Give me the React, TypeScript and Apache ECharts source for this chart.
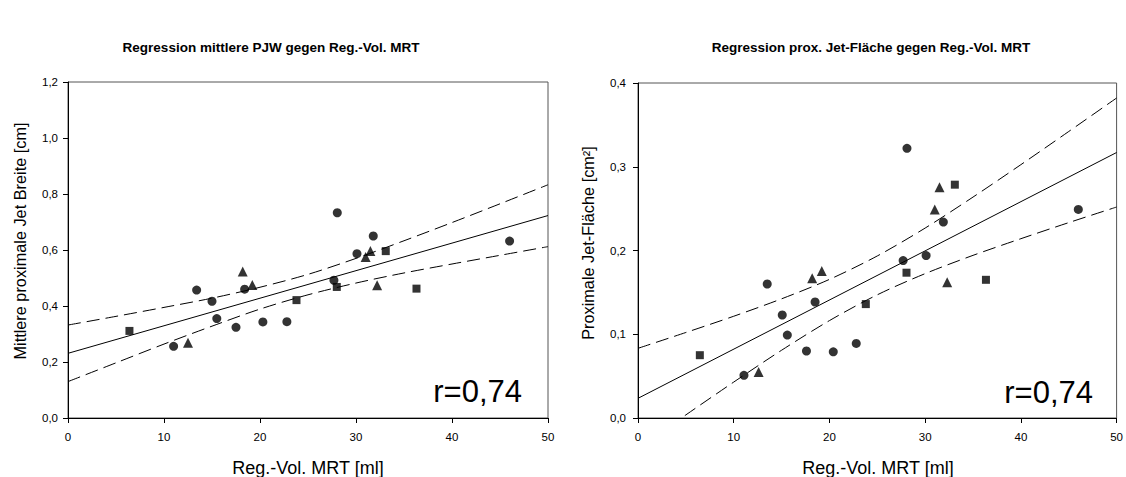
import React, { useEffect, useRef } from "react";
import * as echarts from "echarts";

// ---- Data ----
const leftCircles: [number, number][] = [
  [11.0, 0.256], [13.4, 0.457], [15.0, 0.417], [15.5, 0.355], [17.5, 0.324], [18.4, 0.46],
  [20.3, 0.343], [22.8, 0.344], [27.7, 0.492], [28.05, 0.733], [30.1, 0.587], [31.8, 0.65], [46.0, 0.632],
];
const leftTriangles: [number, number][] = [
  [12.5, 0.269], [18.2, 0.523], [19.2, 0.475], [31.0, 0.575], [31.5, 0.596], [32.2, 0.474],
];
const leftSquares: [number, number][] = [
  [6.4, 0.311], [23.8, 0.421], [28.0, 0.468], [33.1, 0.596], [36.3, 0.462],
];

const rightCircles: [number, number][] = [
  [11.07, 0.051], [13.5, 0.16], [15.07, 0.123], [15.6, 0.099], [17.6, 0.08], [18.5, 0.1385],
  [20.4, 0.079], [22.8, 0.089], [27.7, 0.188], [28.1, 0.322], [30.1, 0.194], [31.9, 0.234], [46.0, 0.249],
];
const rightTriangles: [number, number][] = [
  [12.6, 0.055], [18.2, 0.167], [19.2, 0.1755], [31.0, 0.249], [31.5, 0.2755], [32.3, 0.162],
];
const rightSquares: [number, number][] = [
  [6.46, 0.075], [23.8, 0.136], [28.05, 0.1735], [33.1, 0.2786], [36.35, 0.165],
];

const fitX = [0, 50];
const leftFit = [0.231, 0.723];
const rightFit = [0.0235, 0.317];

const bandX = [0, 5, 10, 15, 20, 25, 30, 35, 40, 45, 50];
const leftUpper = [0.332, 0.363, 0.395, 0.428, 0.467, 0.513, 0.57, 0.633, 0.698, 0.765, 0.833];
const leftLower = [0.13, 0.197, 0.264, 0.328, 0.389, 0.44, 0.482, 0.518, 0.55, 0.581, 0.612];
const rightUpper = [0.0832, 0.1021, 0.1215, 0.1423, 0.1655, 0.1935, 0.2268, 0.2638, 0.3025, 0.3421, 0.3821];
const rightLower = [-0.0362, 0.0037, 0.0429, 0.0809, 0.1163, 0.1471, 0.1724, 0.1942, 0.2141, 0.2333, 0.2519];

const titles = [
  "Regression mittlere PJW gegen Reg.-Vol. MRT",
  "Regression prox. Jet-Fläche gegen Reg.-Vol. MRT",
];
const yNames = ["Mittlere proximale Jet Breite [cm]", "Proximale Jet-Fläche [cm²]"];
const xName = "Reg.-Vol. MRT [ml]";
const rText = "r=0,74";

const FONT = 'Arial, "Liberation Sans", sans-serif';

const zip = (xs: number[], ys: number[]) => xs.map((x, i) => [x, ys[i]]);
const fmt = (v: number) => v.toFixed(1).replace(".", ",");

export default function App() {
  const ref = useRef<HTMLDivElement>(null);
  useEffect(() => {
    document.body.style.margin = "0";
    const chart = echarts.init(ref.current!, undefined, { renderer: "svg" });

    const xAxisCommon = {
      type: "value" as const,
      min: 0,
      max: 50,
      interval: 10,
      axisLine: { show: true, lineStyle: { color: "#000", width: 1 } },
      axisTick: { show: true, inside: false, length: 5, lineStyle: { color: "#000" } },
      axisLabel: { color: "#000", fontSize: 11.5, fontFamily: FONT, margin: 13 },
      splitLine: { show: false },
    };

    const scatter = (data: [number, number][], symbol: string, size: number, idx: number) => ({
      type: "scatter",
      xAxisIndex: idx,
      yAxisIndex: idx,
      data,
      symbol,
      symbolSize: size,
      itemStyle: { color: "#000" },
      z: 5,
    });
    const line = (data: number[][], dashed: boolean, idx: number) => ({
      type: "line",
      xAxisIndex: idx,
      yAxisIndex: idx,
      data,
      showSymbol: false,
      symbol: "none",
      smooth: dashed ? 0.3 : false,
      clip: true,
      lineStyle: { color: "#000", width: 1, type: dashed ? [13, 6] : "solid" },
      z: 3,
    });

    const option: any = {
      animation: false,
      backgroundColor: "#fff",
      grid: [
        { left: 68, top: 82, width: 480, height: 336, show: true, borderColor: "#555", borderWidth: 1, backgroundColor: "transparent" },
        { left: 638, top: 83, width: 480, height: 335, show: true, borderColor: "#555", borderWidth: 1, backgroundColor: "transparent" },
      ],
      xAxis: [
        { ...xAxisCommon, gridIndex: 0 },
        { ...xAxisCommon, gridIndex: 1 },
      ],
      yAxis: [
        {
          type: "value", gridIndex: 0, min: 0, max: 1.2, interval: 0.2,
          axisLine: { show: true, lineStyle: { color: "#000" } },
          axisTick: { show: true, length: 5, lineStyle: { color: "#000" } },
          axisLabel: { color: "#000", fontSize: 11.5, fontFamily: FONT, margin: 10, formatter: fmt },
          splitLine: { show: false },
        },
        {
          type: "value", gridIndex: 1, min: 0, max: 0.4, interval: 0.1,
          axisLine: { show: true, lineStyle: { color: "#000" } },
          axisTick: { show: true, length: 5, lineStyle: { color: "#000" } },
          axisLabel: { color: "#000", fontSize: 11.5, fontFamily: FONT, margin: 12, formatter: fmt },
          splitLine: { show: false },
        },
      ],
      series: [
        line(zip(fitX, leftFit), false, 0),
        line(zip(bandX, leftUpper), true, 0),
        line(zip(bandX, leftLower), true, 0),
        scatter(leftCircles, "circle", 9, 0),
        scatter(leftTriangles, "triangle", 10, 0),
        scatter(leftSquares, "rect", 8, 0),
        line(zip(fitX, rightFit), false, 1),
        line(zip(bandX, rightUpper), true, 1),
        line(zip(bandX, rightLower), true, 1),
        scatter(rightCircles, "circle", 9, 1),
        scatter(rightTriangles, "triangle", 10, 1),
        scatter(rightSquares, "rect", 8, 1),
      ],
      graphic: [
        { type: "text", x: 271, y: 47, style: { text: titles[0], font: `bold 13.5px ${FONT}`, fill: "#000", align: "center", verticalAlign: "middle" } },
        { type: "text", x: 871, y: 47, style: { text: titles[1], font: `bold 13.5px ${FONT}`, fill: "#000", align: "center", verticalAlign: "middle" } },
        { type: "text", x: 20, y: 241, rotation: Math.PI / 2, style: { text: yNames[0], font: `16.3px ${FONT}`, fill: "#000", align: "center", verticalAlign: "middle" } },
        { type: "text", x: 588, y: 243, rotation: Math.PI / 2, style: { text: yNames[1], font: `16.3px ${FONT}`, fill: "#000", align: "center", verticalAlign: "middle" } },
        { type: "text", x: 308, y: 468, style: { text: xName, font: `18px ${FONT}`, fill: "#000", align: "center", verticalAlign: "middle" } },
        { type: "text", x: 878, y: 468, style: { text: xName, font: `18px ${FONT}`, fill: "#000", align: "center", verticalAlign: "middle" } },
        { type: "text", x: 522, y: 391, style: { text: rText, font: `31px ${FONT}`, fill: "#000", align: "right", verticalAlign: "middle" } },
        { type: "text", x: 1093, y: 392, style: { text: rText, font: `31px ${FONT}`, fill: "#000", align: "right", verticalAlign: "middle" } },
      ],
    };
    chart.setOption(option);
    return () => chart.dispose();
  }, []);
  return <div ref={ref} style={{ width: 1126, height: 477 }} />;
}
